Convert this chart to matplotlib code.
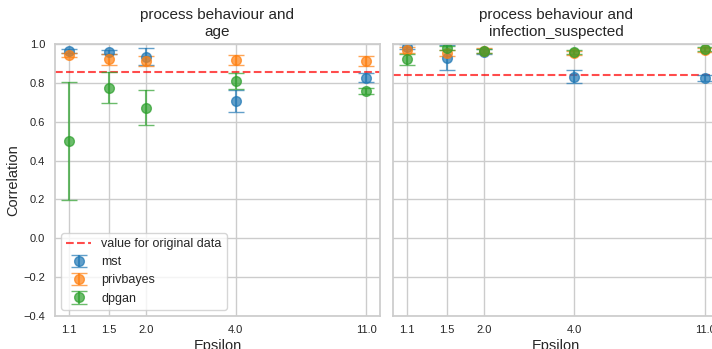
import matplotlib
matplotlib.use("Agg")
import matplotlib.pyplot as plt
import seaborn as sns
import numpy as np

sns.set_theme(style="whitegrid")
plt.rcParams['font.family'] = ['Liberation Sans', 'DejaVu Sans']

epsilons = [1.1, 1.5, 2.0, 4.0, 11.0]
methods = ["mst", "privbayes", "dpgan"]
colors = ["#1f77b4", "#ff7f0e", "#2ca02c"]

# left panel: age
age_mean = {
    "mst":       [0.966, 0.960, 0.935, 0.707, 0.827],
    "privbayes": [0.943, 0.921, 0.914, 0.918, 0.912],
    "dpgan":     [0.500, 0.775, 0.672, 0.811, 0.758],
}
age_err = {
    "mst":       [0.010, 0.010, 0.045, 0.055, 0.025],
    "privbayes": [0.012, 0.030, 0.025, 0.024, 0.025],
    "dpgan":     [0.302, 0.080, 0.090, 0.041, 0.015],
}
age_orig = 0.855

# right panel: infection_suspected
inf_mean = {
    "mst":       [0.986, 0.930, 0.960, 0.832, 0.823],
    "privbayes": [0.969, 0.955, 0.966, 0.955, 0.969],
    "dpgan":     [0.921, 0.978, 0.964, 0.959, 0.974],
}
inf_err = {
    "mst":       [0.012, 0.063, 0.012, 0.035, 0.015],
    "privbayes": [0.015, 0.015, 0.012, 0.010, 0.010],
    "dpgan":     [0.030, 0.010, 0.010, 0.010, 0.010],
}
inf_orig = 0.840

fig = plt.figure(figsize=(7.12, 3.49), dpi=100)
ax1 = fig.add_axes([55/712, 33/349, 325/712, 272/349])
ax2 = fig.add_axes([393/712, 33/349, 326/712, 272/349], sharey=ax1)

panels = [
    (ax1, "process behaviour and\nage", age_mean, age_err, age_orig),
    (ax2, "process behaviour and\ninfection_suspected", inf_mean, inf_err, inf_orig),
]

for ax, title, means, errs, orig in panels:
    ax.axhline(orig, color="red", linestyle="--", alpha=0.7, lw=1.5,
               label="value for original data")
    for m, c in zip(methods, colors):
        ax.errorbar(epsilons, means[m], yerr=errs[m], fmt="o", color=c,
                    alpha=0.7, markersize=7, capsize=6, elinewidth=1.5,
                    label=m)
    ax.set_xscale("log")
    ax.set_xticks(epsilons)
    ax.set_xticklabels([str(e) for e in epsilons])
    ax.xaxis.set_minor_locator(matplotlib.ticker.NullLocator())
    ax.set_xlim(0.987, 12.25)
    ax.set_ylim(-0.4, 1.0)
    ax.set_title(title, fontsize=11, pad=6)
    ax.set_xlabel("Epsilon", fontsize=10.5, labelpad=3)
    ax.tick_params(axis="x", labelsize=8, length=0, pad=6.5)
    ax.tick_params(axis="y", labelsize=8, length=0, pad=7)

ax1.set_ylabel("Correlation", fontsize=10.5, labelpad=2)
plt.setp(ax2.get_yticklabels(), visible=False)
ax1.legend(loc="lower left", fontsize=9)

fig.savefig("out.png", dpi=100)
